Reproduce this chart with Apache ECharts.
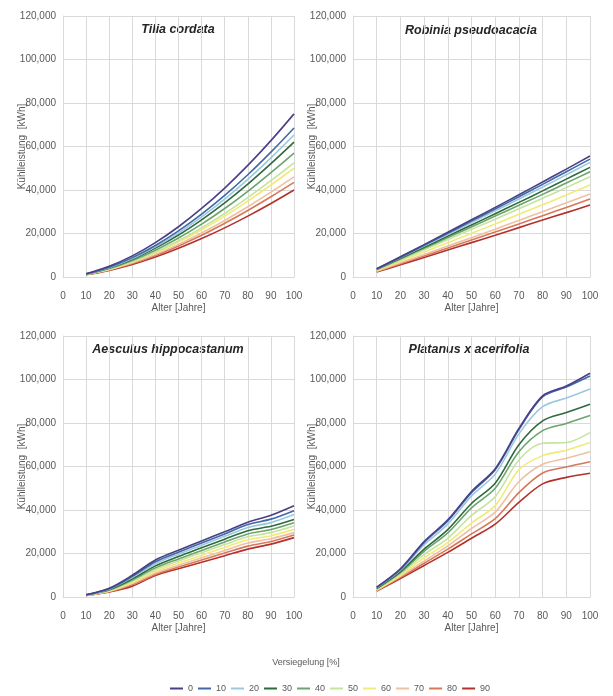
<!DOCTYPE html>
<html>
<head>
<meta charset="utf-8">
<script src="https://cdn.jsdelivr.net/npm/echarts@6/dist/echarts.min.js"></script>
<style>html,body{margin:0;padding:0;background:#fff;}#c{width:613px;height:696px;}</style>
</head>
<body>
<div id="c"></div>
<script>
// ---- data ----
const AGES = [10, 20, 30, 40, 50, 60, 70, 80, 90, 100];
const GROUPS = ['0', '10', '20', '30', '40', '50', '60', '70', '80', '90'];
const X_TICKS = [0, 10, 20, 30, 40, 50, 60, 70, 80, 90, 100];
const Y_TICKS = [0, 20000, 40000, 60000, 80000, 100000, 120000];
const SPECIES = ['Tilia cordata', 'Robinia pseudoacacia', 'Aesculus hippocastanum', 'Platanus x acerifolia'];

const TILIA = [
  [1500, 4900, 9700, 15800, 23100, 31500, 40900, 51300, 62700, 75000],
  [1450, 4500, 8900, 14500, 21200, 28900, 37500, 47000, 57400, 68500],
  [1400, 4300, 8500, 13900, 20200, 27600, 35800, 44900, 54800, 65300],
  [1350, 4150, 8150, 13300, 19300, 26300, 34100, 42700, 52100, 62000],
  [1300, 3900, 7600, 12300, 17900, 24300, 31500, 39400, 48000, 57000],
  [1250, 3650, 7100, 11500, 16700, 22600, 29200, 36500, 44300, 52500],
  [1200, 3550, 6900, 11100, 16100, 21700, 28000, 34900, 42300, 50000],
  [1150, 3350, 6500, 10400, 15000, 20200, 26000, 32300, 39000, 46000],
  [1100, 3250, 6200, 9900, 14300, 19200, 24700, 30600, 36900, 43500],
  [1000, 3050, 5800, 9200, 13200, 17700, 22600, 28000, 33800, 40000]
];
const ROBINIA = [
  [3800, 9300, 14900, 20600, 26300, 32000, 37800, 43700, 49600, 55600],
  [3700, 9100, 14600, 20100, 25700, 31300, 36900, 42600, 48400, 54200],
  [3600, 8900, 14200, 19600, 25000, 30400, 35900, 41400, 47000, 52700],
  [3500, 8600, 13700, 18800, 23900, 29100, 34300, 39600, 45000, 50400],
  [3400, 8300, 13200, 18100, 23000, 28000, 33000, 38000, 43200, 48400],
  [3200, 7800, 12500, 17200, 21900, 26600, 31400, 36200, 41100, 46100],
  [3000, 7200, 11500, 15800, 20100, 24400, 28800, 33200, 37700, 42300],
  [2700, 6500, 10300, 14200, 18100, 22000, 26000, 30000, 34100, 38200],
  [2500, 6100, 9700, 13300, 17000, 20700, 24400, 28200, 32000, 35900],
  [2300, 5600, 9000, 12400, 15800, 19200, 22700, 26200, 29600, 33100]
];
const AESCULUS = [
  [1000, 4000, 10000, 17000, 21500, 25800, 30000, 34400, 37600, 42000],
  [1000, 3800, 9500, 16200, 20600, 24800, 29000, 33300, 35800, 39700],
  [950, 3600, 9000, 15300, 19700, 23800, 27900, 32000, 34200, 37900],
  [900, 3400, 8400, 14300, 18600, 22600, 26600, 30500, 32500, 35600],
  [900, 3200, 7800, 13400, 17500, 21400, 25300, 29000, 31000, 34100],
  [850, 3000, 7200, 12600, 16600, 20400, 24100, 27700, 29600, 32600],
  [800, 2800, 6700, 11800, 15600, 19200, 22800, 26300, 28200, 31100],
  [800, 2600, 6200, 11000, 14600, 18000, 21400, 24800, 26800, 29600],
  [750, 2450, 5600, 10400, 13800, 17000, 20200, 23400, 25500, 28500],
  [700, 2300, 5000, 9900, 13000, 16000, 19000, 22000, 24300, 27300]
];
const PLATANUS = [
  [4500, 13000, 25500, 35500, 48500, 59000, 77500, 92500, 97000, 102900],
  [4400, 12700, 25000, 35000, 48000, 58500, 77000, 92000, 96500, 101600],
  [4200, 12300, 24000, 33500, 46500, 56500, 75000, 87500, 91500, 95600],
  [4000, 11700, 22000, 31000, 43000, 52300, 70000, 81000, 84800, 88600],
  [3800, 11200, 21000, 29500, 41000, 50000, 66800, 76500, 79800, 83400],
  [3600, 10600, 19500, 27000, 37500, 46100, 63000, 70700, 71000, 75600],
  [3300, 10000, 18000, 25000, 34000, 42000, 58500, 65000, 67500, 71000],
  [3100, 9500, 16500, 23500, 31500, 39000, 53000, 61000, 63800, 66800],
  [2900, 9000, 15500, 22000, 29000, 36000, 48000, 57000, 59800, 62200],
  [2700, 8500, 14500, 20500, 27000, 33500, 43500, 52000, 55000, 56900]
];

// ---- style ----
const PALETTE = ['#4a3f87', '#3f6aa5', '#9cc8df', '#2f6a3c', '#6ba56b', '#c6e3a0', '#f2ea78', '#efc1a1', '#d8785b', '#b3322b'];
const FONT = 'Liberation Sans, Arial, sans-serif';
const GREY = '#595959';
const GRID_LINE = '#d9d9d9';

const grids = [
  { left: 63, top: 16, width: 231, height: 261 },
  { left: 353, top: 16, width: 237, height: 261 },
  { left: 63, top: 336, width: 231, height: 261 },
  { left: 353, top: 336, width: 237, height: 261 }
];
const titlePos = [[178, 30], [471, 31], [168, 350], [469, 350]];
const DATA = [TILIA, ROBINIA, AESCULUS, PLATANUS];
const smoothness = [0.4, 0.4, 0.3, 0.3];

const xAxes = grids.map((g, i) => ({
  type: 'value', gridIndex: i,
  min: X_TICKS[0], max: X_TICKS[X_TICKS.length - 1], interval: X_TICKS[1] - X_TICKS[0],
  name: 'Alter [Jahre]', nameLocation: 'middle', nameGap: 26, nameMoveOverlap: false,
  nameTextStyle: { color: GREY, fontSize: 10, fontFamily: FONT },
  axisLine: { show: true, lineStyle: { color: GRID_LINE } },
  axisTick: { show: false },
  axisLabel: { color: GREY, fontSize: 10, fontFamily: FONT, margin: 14 },
  splitLine: { show: true, lineStyle: { color: GRID_LINE, width: 1 } }
}));
const yAxes = grids.map((g, i) => ({
  type: 'value', gridIndex: i,
  min: Y_TICKS[0], max: Y_TICKS[Y_TICKS.length - 1], interval: Y_TICKS[1] - Y_TICKS[0],
  name: 'Kühlleistung  [kWh]', nameLocation: 'middle', nameGap: 36, nameMoveOverlap: false,
  nameTextStyle: { color: GREY, fontSize: 10, fontFamily: FONT },
  axisLine: { show: true, lineStyle: { color: GRID_LINE } },
  axisTick: { show: false },
  axisLabel: { color: GREY, fontSize: 10, fontFamily: FONT, margin: 7,
    formatter: v => v.toLocaleString('en-US') },
  splitLine: { show: true, lineStyle: { color: GRID_LINE, width: 1 } }
}));

const series = [];
DATA.forEach((rows, gi) => {
  rows.forEach((vals, si) => {
    series.push({
      type: 'line', name: GROUPS[si], xAxisIndex: gi, yAxisIndex: gi,
      data: AGES.map((a, k) => [a, vals[k]]),
      smooth: smoothness[gi], showSymbol: false, symbol: 'none',
      lineStyle: { color: PALETTE[si], width: 1.6 },
      itemStyle: { color: PALETTE[si] },
      z: 10 - si
    });
  });
});

const graphics = SPECIES.map((s, i) => ({
  type: 'text', x: titlePos[i][0], y: titlePos[i][1],
  style: { text: s, font: 'italic bold 12.5px ' + FONT, fill: '#262626',
    textAlign: 'center', textVerticalAlign: 'middle' }
}));
graphics.push({
  type: 'text', x: 306, y: 663,
  style: { text: 'Versiegelung [%]', font: '9px ' + FONT, fill: GREY,
    textAlign: 'center', textVerticalAlign: 'middle' }
});

const chart = echarts.init(document.getElementById('c'), null, { renderer: 'canvas' });
chart.setOption({
  animation: false,
  backgroundColor: '#ffffff',
  grid: grids,
  xAxis: xAxes,
  yAxis: yAxes,
  legend: {
    data: GROUPS, left: 165, top: 679, icon: 'rect',
    itemWidth: 13, itemHeight: 2, itemGap: 5,
    textStyle: { color: GREY, fontSize: 9, fontFamily: FONT }
  },
  graphic: graphics,
  series: series
});
</script>
</body>
</html>
